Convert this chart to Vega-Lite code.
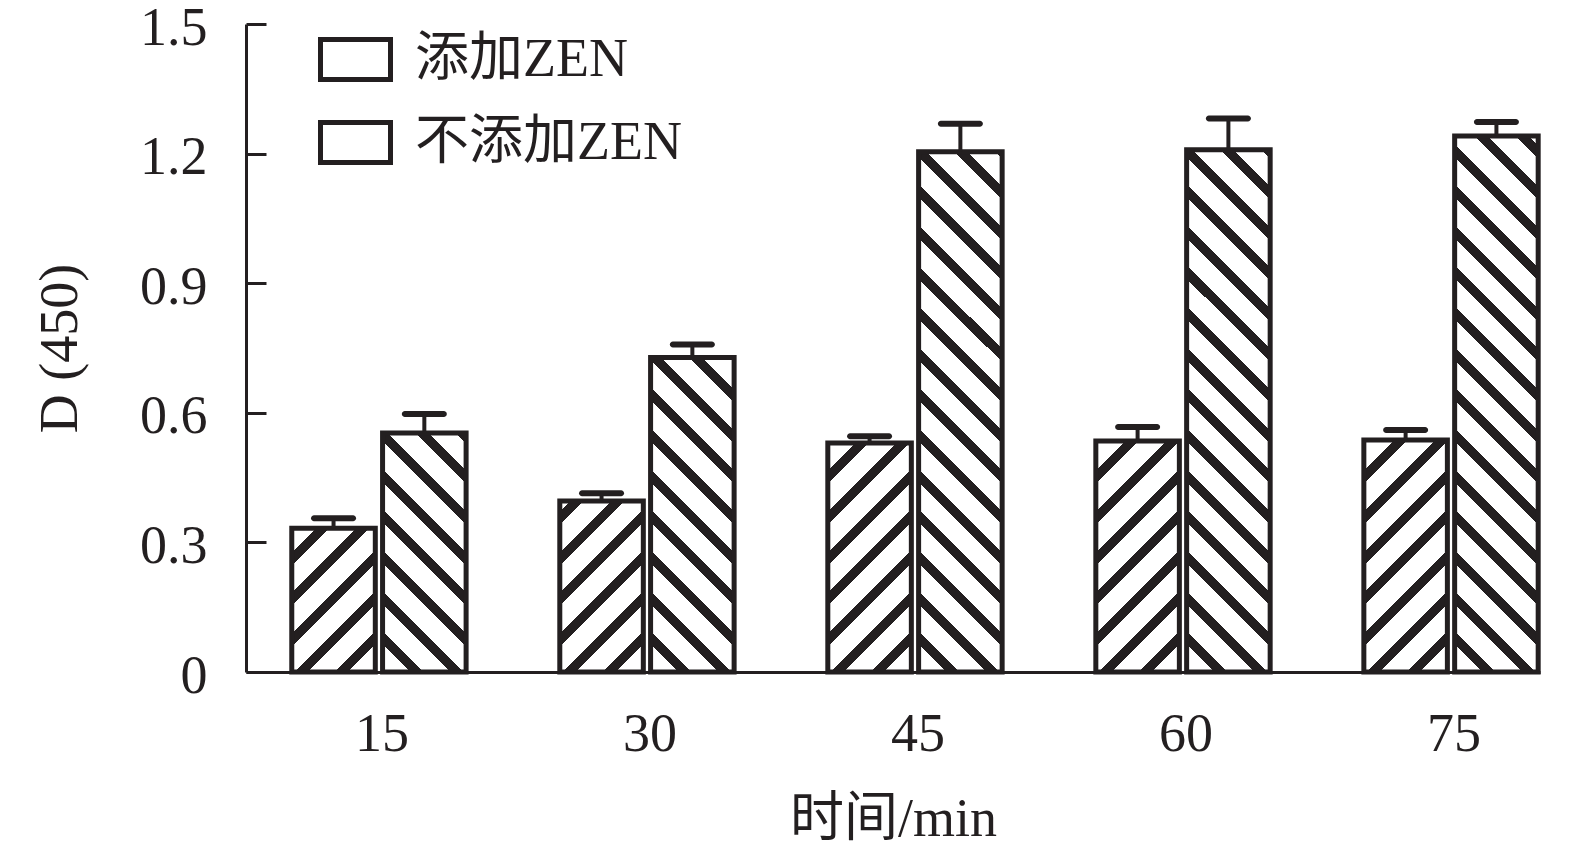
{
  "$schema": "https://vega.github.io/schema/vega-lite/v6.json",
  "autosize": "none",
  "width": 1294,
  "height": 648,
  "padding": {"left": 246, "top": 24, "right": 35, "bottom": 183},
  "background": "white",
  "config": {
    "view": {"stroke": null},
    "font": "Liberation Serif, Noto Sans CJK SC",
    "axis": {"labelFont": "Liberation Serif, Noto Sans CJK SC", "titleFont": "Liberation Serif, Noto Sans CJK SC", "labelColor": "#231f20", "titleColor": "#231f20", "domainColor": "#231f20", "tickColor": "#231f20", "labelFontSize": 54, "titleFontSize": 54, "titleFontWeight": "normal", "grid": false},
    "legend": {"labelFont": "Liberation Serif, Noto Sans CJK SC"}
  },
  "data": {"values": [
    {"time": "15", "group": "添加ZEN", "value": 0.333, "upper": 0.356},
    {"time": "15", "group": "不添加ZEN", "value": 0.553, "upper": 0.597},
    {"time": "30", "group": "添加ZEN", "value": 0.396, "upper": 0.414},
    {"time": "30", "group": "不添加ZEN", "value": 0.728, "upper": 0.758},
    {"time": "45", "group": "添加ZEN", "value": 0.530, "upper": 0.546},
    {"time": "45", "group": "不添加ZEN", "value": 1.204, "upper": 1.269},
    {"time": "60", "group": "添加ZEN", "value": 0.535, "upper": 0.567},
    {"time": "60", "group": "不添加ZEN", "value": 1.209, "upper": 1.281},
    {"time": "75", "group": "添加ZEN", "value": 0.537, "upper": 0.560},
    {"time": "75", "group": "不添加ZEN", "value": 1.241, "upper": 1.273}
  ]},
  "encoding": {
    "x": {"field": "time", "type": "nominal", "sort": ["15","30","45","60","75"],
      "scale": {"paddingInner": 0.336, "paddingOuter": 0.082, "align": 1},
      "axis": {"title": "时间/min", "labelAngle": 0, "ticks": false, "domainWidth": 3, "labelPadding": 35, "titlePadding": 31, "labelOffset": 3}},
    "xOffset": {"field": "group", "type": "nominal", "sort": ["添加ZEN","不添加ZEN"],
      "scale": {"domain": ["添加ZEN","不添加ZEN"], "paddingInner": 0.08, "paddingOuter": 0.02}}
  },
  "layer": [
    {
      "mark": {"type": "bar", "strokeWidth": 0},
      "encoding": {
        "y": {"datum": 1.5, "type": "quantitative", "scale": {"domain": [0, 1.5], "nice": false},
          "axis": {"title": "D (450)", "values": [0, 0.3, 0.6, 0.9, 1.2, 1.5], "labelExpr": "datum.value === 0 ? '0' : format(datum.value, '.1f')", "domainWidth": 3, "tickWidth": 3, "tickSize": -20, "labelPadding": 59, "labelOffset": 4, "titlePadding": 52}},
        "y2": {"datum": 0},
        "fill": {
          "condition": {"test": "datum.group === '添加ZEN'", "value": {"gradient": "linear", "x1": 0, "y1": 0, "x2": 0.1431, "y2": 1.1105, "stops": [
            {"offset": 0, "color": "#231f20"}, {"offset": 0.01778, "color": "#231f20"}, {"offset": 0.01778, "color": "white"},
            {"offset": 0.05556, "color": "white"}, {"offset": 0.05556, "color": "#231f20"}, {"offset": 0.07333, "color": "#231f20"}, {"offset": 0.07333, "color": "white"},
            {"offset": 0.11111, "color": "white"}, {"offset": 0.11111, "color": "#231f20"}, {"offset": 0.12889, "color": "#231f20"}, {"offset": 0.12889, "color": "white"},
            {"offset": 0.16667, "color": "white"}, {"offset": 0.16667, "color": "#231f20"}, {"offset": 0.18444, "color": "#231f20"}, {"offset": 0.18444, "color": "white"},
            {"offset": 0.22222, "color": "white"}, {"offset": 0.22222, "color": "#231f20"}, {"offset": 0.24, "color": "#231f20"}, {"offset": 0.24, "color": "white"},
            {"offset": 0.27778, "color": "white"}, {"offset": 0.27778, "color": "#231f20"}, {"offset": 0.29556, "color": "#231f20"}, {"offset": 0.29556, "color": "white"},
            {"offset": 0.33333, "color": "white"}, {"offset": 0.33333, "color": "#231f20"}, {"offset": 0.35111, "color": "#231f20"}, {"offset": 0.35111, "color": "white"},
            {"offset": 0.38889, "color": "white"}, {"offset": 0.38889, "color": "#231f20"}, {"offset": 0.40667, "color": "#231f20"}, {"offset": 0.40667, "color": "white"},
            {"offset": 0.44444, "color": "white"}, {"offset": 0.44444, "color": "#231f20"}, {"offset": 0.46222, "color": "#231f20"}, {"offset": 0.46222, "color": "white"},
            {"offset": 0.5, "color": "white"}, {"offset": 0.5, "color": "#231f20"}, {"offset": 0.51778, "color": "#231f20"}, {"offset": 0.51778, "color": "white"},
            {"offset": 0.55556, "color": "white"}, {"offset": 0.55556, "color": "#231f20"}, {"offset": 0.57333, "color": "#231f20"}, {"offset": 0.57333, "color": "white"},
            {"offset": 0.61111, "color": "white"}, {"offset": 0.61111, "color": "#231f20"}, {"offset": 0.62889, "color": "#231f20"}, {"offset": 0.62889, "color": "white"},
            {"offset": 0.66667, "color": "white"}, {"offset": 0.66667, "color": "#231f20"}, {"offset": 0.68444, "color": "#231f20"}, {"offset": 0.68444, "color": "white"},
            {"offset": 0.72222, "color": "white"}, {"offset": 0.72222, "color": "#231f20"}, {"offset": 0.74, "color": "#231f20"}, {"offset": 0.74, "color": "white"},
            {"offset": 0.77778, "color": "white"}, {"offset": 0.77778, "color": "#231f20"}, {"offset": 0.79556, "color": "#231f20"}, {"offset": 0.79556, "color": "white"},
            {"offset": 0.83333, "color": "white"}, {"offset": 0.83333, "color": "#231f20"}, {"offset": 0.85111, "color": "#231f20"}, {"offset": 0.85111, "color": "white"},
            {"offset": 0.88889, "color": "white"}, {"offset": 0.88889, "color": "#231f20"}, {"offset": 0.90667, "color": "#231f20"}, {"offset": 0.90667, "color": "white"},
            {"offset": 0.94444, "color": "white"}, {"offset": 0.94444, "color": "#231f20"}, {"offset": 0.96222, "color": "#231f20"}, {"offset": 0.96222, "color": "white"},
            {"offset": 1, "color": "white"}
          ]}},
          "value": {"gradient": "linear", "x1": 1, "y1": 0, "x2": 0.8569, "y2": 1.1105, "stops": [
            {"offset": 0, "color": "#231f20"}, {"offset": 0.01778, "color": "#231f20"}, {"offset": 0.01778, "color": "white"},
            {"offset": 0.05556, "color": "white"}, {"offset": 0.05556, "color": "#231f20"}, {"offset": 0.07333, "color": "#231f20"}, {"offset": 0.07333, "color": "white"},
            {"offset": 0.11111, "color": "white"}, {"offset": 0.11111, "color": "#231f20"}, {"offset": 0.12889, "color": "#231f20"}, {"offset": 0.12889, "color": "white"},
            {"offset": 0.16667, "color": "white"}, {"offset": 0.16667, "color": "#231f20"}, {"offset": 0.18444, "color": "#231f20"}, {"offset": 0.18444, "color": "white"},
            {"offset": 0.22222, "color": "white"}, {"offset": 0.22222, "color": "#231f20"}, {"offset": 0.24, "color": "#231f20"}, {"offset": 0.24, "color": "white"},
            {"offset": 0.27778, "color": "white"}, {"offset": 0.27778, "color": "#231f20"}, {"offset": 0.29556, "color": "#231f20"}, {"offset": 0.29556, "color": "white"},
            {"offset": 0.33333, "color": "white"}, {"offset": 0.33333, "color": "#231f20"}, {"offset": 0.35111, "color": "#231f20"}, {"offset": 0.35111, "color": "white"},
            {"offset": 0.38889, "color": "white"}, {"offset": 0.38889, "color": "#231f20"}, {"offset": 0.40667, "color": "#231f20"}, {"offset": 0.40667, "color": "white"},
            {"offset": 0.44444, "color": "white"}, {"offset": 0.44444, "color": "#231f20"}, {"offset": 0.46222, "color": "#231f20"}, {"offset": 0.46222, "color": "white"},
            {"offset": 0.5, "color": "white"}, {"offset": 0.5, "color": "#231f20"}, {"offset": 0.51778, "color": "#231f20"}, {"offset": 0.51778, "color": "white"},
            {"offset": 0.55556, "color": "white"}, {"offset": 0.55556, "color": "#231f20"}, {"offset": 0.57333, "color": "#231f20"}, {"offset": 0.57333, "color": "white"},
            {"offset": 0.61111, "color": "white"}, {"offset": 0.61111, "color": "#231f20"}, {"offset": 0.62889, "color": "#231f20"}, {"offset": 0.62889, "color": "white"},
            {"offset": 0.66667, "color": "white"}, {"offset": 0.66667, "color": "#231f20"}, {"offset": 0.68444, "color": "#231f20"}, {"offset": 0.68444, "color": "white"},
            {"offset": 0.72222, "color": "white"}, {"offset": 0.72222, "color": "#231f20"}, {"offset": 0.74, "color": "#231f20"}, {"offset": 0.74, "color": "white"},
            {"offset": 0.77778, "color": "white"}, {"offset": 0.77778, "color": "#231f20"}, {"offset": 0.79556, "color": "#231f20"}, {"offset": 0.79556, "color": "white"},
            {"offset": 0.83333, "color": "white"}, {"offset": 0.83333, "color": "#231f20"}, {"offset": 0.85111, "color": "#231f20"}, {"offset": 0.85111, "color": "white"},
            {"offset": 0.88889, "color": "white"}, {"offset": 0.88889, "color": "#231f20"}, {"offset": 0.90667, "color": "#231f20"}, {"offset": 0.90667, "color": "white"},
            {"offset": 0.94444, "color": "white"}, {"offset": 0.94444, "color": "#231f20"}, {"offset": 0.96222, "color": "#231f20"}, {"offset": 0.96222, "color": "white"},
            {"offset": 1, "color": "white"}
          ]}
        }
      }
    },
    {
      "mark": {"type": "bar", "fill": "white", "stroke": "white", "strokeWidth": 3},
      "encoding": {
        "y": {"field": "value", "type": "quantitative"},
        "y2": {"datum": 1.5}
      }
    },
    {
      "mark": {"type": "bar", "fill": "transparent", "strokeWidth": 5},
      "encoding": {
        "y": {"field": "value", "type": "quantitative"},
        "y2": {"datum": 0},
        "stroke": {"field": "group", "type": "nominal", "sort": ["添加ZEN","不添加ZEN"],
          "scale": {"domain": ["添加ZEN","不添加ZEN"], "range": ["#231f20", "#231f20"]},
          "legend": {
            "orient": "none", "legendX": 72, "legendY": -2, "title": null, "padding": 0,
            "symbolType": "M-1,-0.5714H1V0.5714H-1Z", "symbolSize": 4900,
            "symbolStrokeWidth": 5,
            "labelFontSize": 54, "labelColor": "#231f20", "labelOffset": 22, "labelLimit": 0, "rowPadding": 15,
            "encode": {"symbols": {"update": {
              "fill": [
                {"test": "datum.value === '添加ZEN'", "value": {"gradient": "linear", "x1": 0, "y1": 0, "x2": 1.1846, "y2": 0.6769, "stops": [
                  {"offset": 0, "color": "#231f20"}, {"offset": 0.07, "color": "#231f20"}, {"offset": 0.07, "color": "white"},
                  {"offset": 0.314, "color": "white"}, {"offset": 0.314, "color": "#231f20"}, {"offset": 0.43, "color": "#231f20"}, {"offset": 0.43, "color": "white"},
                  {"offset": 0.677, "color": "white"}, {"offset": 0.677, "color": "#231f20"}, {"offset": 0.794, "color": "#231f20"}, {"offset": 0.794, "color": "white"},
                  {"offset": 1, "color": "white"}
                ]}},
                {"value": {"gradient": "linear", "x1": 1, "y1": 0, "x2": -0.1846, "y2": 0.6769, "stops": [
                  {"offset": 0, "color": "#231f20"}, {"offset": 0.07, "color": "#231f20"}, {"offset": 0.07, "color": "white"},
                  {"offset": 0.314, "color": "white"}, {"offset": 0.314, "color": "#231f20"}, {"offset": 0.43, "color": "#231f20"}, {"offset": 0.43, "color": "white"},
                  {"offset": 0.677, "color": "white"}, {"offset": 0.677, "color": "#231f20"}, {"offset": 0.794, "color": "#231f20"}, {"offset": 0.794, "color": "white"},
                  {"offset": 1, "color": "white"}
                ]}}
              ]
            }}}
          }
        }
      }
    },
    {
      "mark": {"type": "rule", "stroke": "#231f20", "strokeWidth": 4},
      "encoding": {
        "y": {"field": "value", "type": "quantitative"},
        "y2": {"field": "upper"}
      }
    },
    {
      "mark": {"type": "tick", "color": "#231f20", "orient": "horizontal", "size": 45, "thickness": 6, "opacity": 1, "cornerRadius": 3},
      "encoding": {
        "y": {"field": "upper", "type": "quantitative"}
      }
    }
  ]
}
